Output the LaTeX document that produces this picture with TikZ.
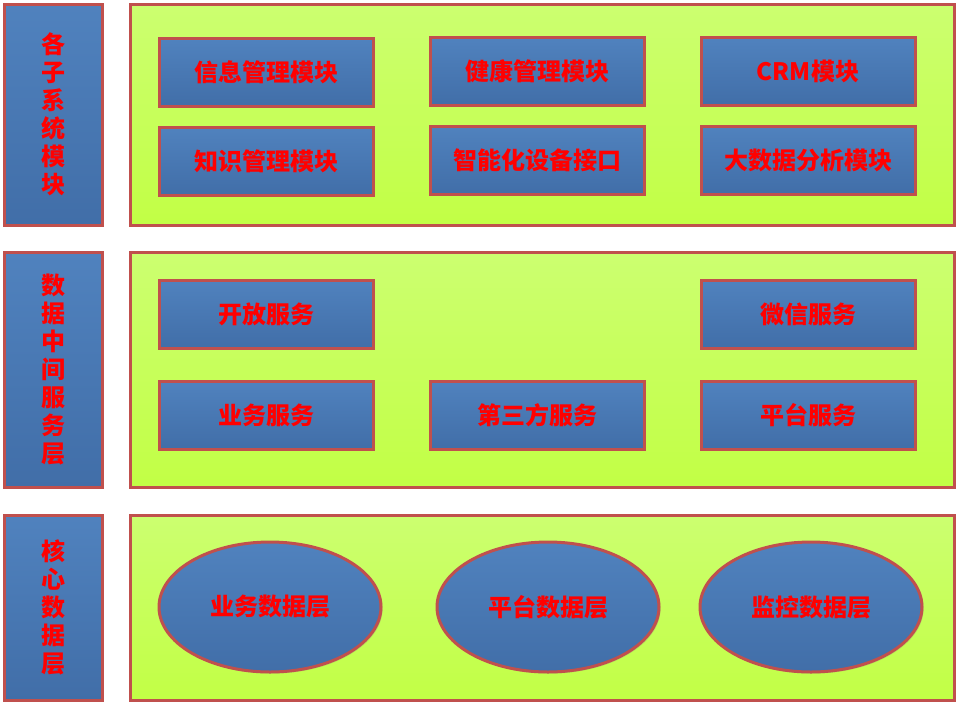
\documentclass[tikz,border=0pt]{standalone}
\usepackage{fontspec}
\newfontfamily\cjk{Noto Sans CJK SC}
\usepackage{tikz}
\usetikzlibrary{shapes,shadows,positioning}

\definecolor{boxblueA}{HTML}{5082BE}
\definecolor{boxblueB}{HTML}{416EA8}
\definecolor{edgered}{HTML}{C0504D}
\definecolor{panelA}{HTML}{CCFF70}
\definecolor{panelB}{HTML}{C2FF45}
\definecolor{textred}{HTML}{FF0000}

\begin{document}
\begin{tikzpicture}[x=0.75pt,y=-0.75pt,
		font=\cjk\bfseries\fontsize{18}{21}\selectfont,
		bluebox/.style={draw=edgered,line width=2.25pt,top color=boxblueA,bottom color=boxblueB,
			text=textred,align=center,inner sep=0pt,
			drop shadow={opacity=0.25,shadow xshift=1.2pt,shadow yshift=-1.2pt}},
		modbox/.style={bluebox,rectangle,minimum width=160.5pt,minimum height=51pt},
		layerbox/.style={bluebox,rectangle,minimum width=73.5pt},
		dataring/.style={bluebox,ellipse,minimum width=166.5pt,minimum height=97.5pt},
		panel/.style={draw=edgered,line width=2.25pt,top color=panelA,bottom color=panelB,
			rectangle,minimum width=618pt,inner sep=0pt,
			drop shadow={opacity=0.25,shadow xshift=1.2pt,shadow yshift=-1.2pt}}]
	\useasboundingbox (0,0) rectangle (961,708);

	% Subsystem modules
	\node[layerbox,minimum height=165.75pt] (L1) at (53,114.5) {各\\子\\系\\统\\模\\块};
	\node[panel,minimum height=165.75pt] (P1) at (542,114.5) {};
	\node[modbox] (M11) at (266,72.5) {信息管理模块};
	\node[modbox] (M12) at (537,71.5) {健康管理模块};
	\node[modbox] (M13) at (808,71.5) {CRM模块};
	\node[modbox] (M21) at (266,161) {知识管理模块};
	\node[modbox] (M22) at (537,160) {智能化设备接口};
	\node[modbox] (M23) at (808,160) {大数据分析模块};

	% Data middle service layer
	\node[layerbox,minimum height=176.25pt] (L2) at (53,369.5) {数\\据\\中\\间\\服\\务\\层};
	\node[panel,minimum height=176.25pt] (P2) at (542,369.5) {};
	\node[modbox] (S11) at (266,314) {开放服务};
	\node[modbox] (S13) at (808,314) {微信服务};
	\node[modbox] (S21) at (266,415) {业务服务};
	\node[modbox] (S22) at (537,415) {第三方服务};
	\node[modbox] (S23) at (808,415) {平台服务};

	% Core data layer
	\node[layerbox,minimum height=138.75pt] (L3) at (53,607.5) {核\\心\\数\\据\\层};
	\node[panel,minimum height=138.75pt] (P3) at (542,607.5) {};
	\node[dataring] (D1) at (270,607) {业务数据层};
	\node[dataring] (D2) at (548,607) {平台数据层};
	\node[dataring] (D3) at (811,607) {监控数据层};
\end{tikzpicture}
\end{document}
